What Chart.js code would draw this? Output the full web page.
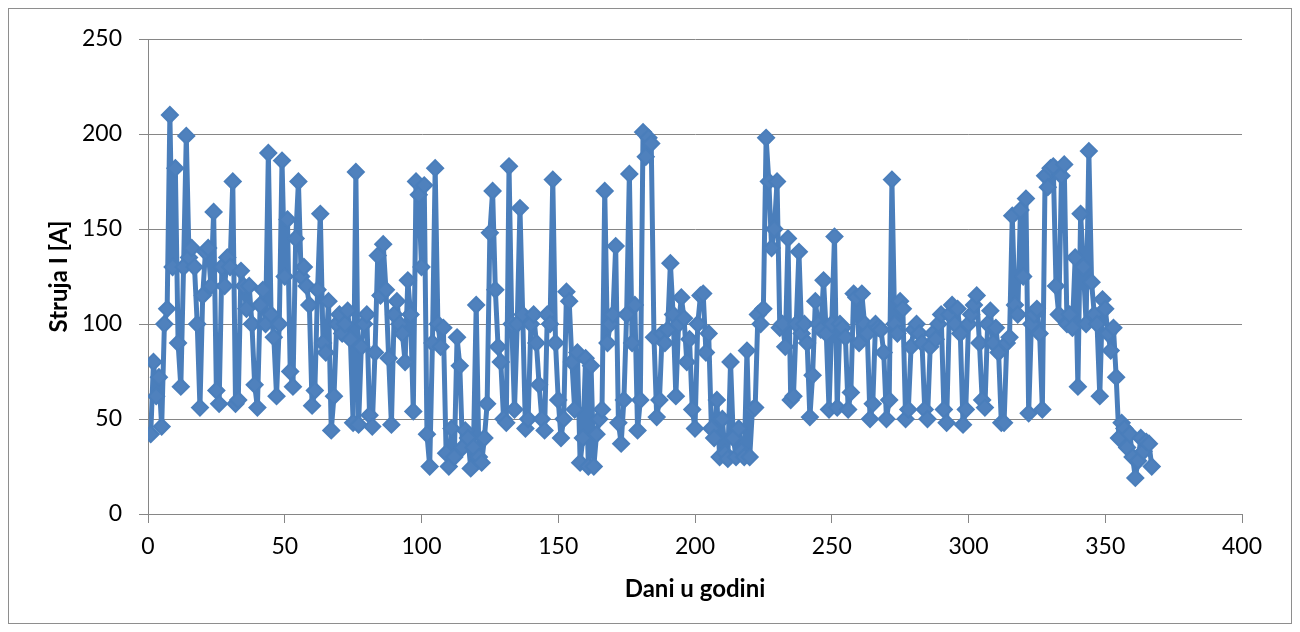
<!DOCTYPE html>
<html>
<head>
<meta charset="utf-8">
<script src="https://cdn.jsdelivr.net/npm/chart.js@4.4.1/dist/chart.umd.min.js"></script>
<style>
  html, body { margin: 0; padding: 0; background: #fff; }
  canvas { display: block; }
</style>
</head>
<body>
<canvas id="myChart" width="1300" height="632"></canvas>
<script>
// struja po danima (A)
const struja = [
  42, 80, 62, 72, 46, 100, 108, 210, 130, 182,
  90, 67, 130, 199, 135, 140, 130, 100, 56, 115,
  138, 140, 120, 159, 65, 58, 130, 120, 135, 130,
  175, 58, 60, 128, 120, 108, 120, 100, 68, 56,
  110, 118, 100, 190, 105, 93, 62, 100, 186, 125,
  155, 75, 67, 145, 175, 125, 130, 120, 110, 57,
  65, 118, 158, 90, 85, 112, 44, 62, 100, 105,
  95, 100, 107, 92, 48, 180, 47, 88, 100, 105,
  52, 46, 85, 136, 115, 142, 118, 82, 47, 105,
  112, 100, 95, 80, 123, 105, 54, 175, 168, 130,
  173, 42, 25, 90, 182, 100, 88, 98, 32, 25,
  45, 30, 93, 78, 35, 44, 40, 24, 35, 110,
  30, 27, 40, 58, 148, 170, 118, 88, 80, 50,
  48, 183, 100, 55, 100, 161, 105, 45, 50, 100,
  105, 90, 68, 50, 44, 105, 100, 176, 90, 60,
  40, 50, 117, 112, 80, 55, 85, 27, 40, 82,
  25, 78, 25, 42, 50, 55, 170, 90, 100, 105,
  141, 48, 37, 60, 105, 179, 90, 110, 44, 60,
  201, 188, 198, 195, 93, 51, 60, 95, 90, 97,
  132, 105, 62, 100, 114, 103, 80, 92, 55, 45,
  100, 115, 116, 85, 95, 45, 40, 60, 30, 50,
  32, 29, 80, 40, 30, 45, 33, 30, 86, 30,
  55, 56, 105, 100, 108, 198, 175, 140, 150, 175,
  98, 100, 88, 145, 60, 62, 100, 138, 95, 100,
  90, 51, 73, 112, 100, 97, 123, 95, 55, 100,
  146, 56, 100, 98, 93, 55, 64, 116, 114, 90,
  116, 100, 95, 50, 58, 100, 98, 97, 85, 50,
  60, 176, 100, 95, 112, 108, 50, 55, 88, 97,
  100, 95, 90, 55, 50, 88, 95, 92, 100, 105,
  55, 48, 105, 110, 100, 108, 95, 47, 55, 100,
  105, 110, 115, 90, 60, 56, 100, 107, 90, 98,
  85, 48, 48, 90, 93, 157, 110, 105, 160, 125,
  166, 53, 100, 105, 108, 95, 55, 178, 172, 182,
  183, 120, 105, 178, 184, 100, 105, 98, 135, 67,
  158, 130, 100, 191, 122, 105, 100, 62, 113, 108,
  95, 86, 98, 72, 40, 48, 45, 35, 42, 30,
  19, 28, 40, 33, 38, 37, 25
];
// dan u godini = redni broj mjerenja
const dani = struja.map((v, i) => i + 1);

const xMin = 0, xMax = 400, xKorak = 50;
const yMin = 0, yMax = 250, yKorak = 50;

const naslovX = 'Dani u godini';
const naslovY = 'Struja I [A]';

const tacke = dani.map((d, i) => ({ x: d, y: struja[i] }));

const okvir = {
  id: 'okvir',
  beforeDraw(chart) {
    const c = chart.ctx;
    c.save();
    c.fillStyle = '#ffffff';
    c.fillRect(0, 0, chart.width, chart.height);
    c.strokeStyle = '#8e8e8e';
    c.lineWidth = 1;
    c.strokeRect(8.5, 8.5, 1283, 615);
    c.restore();
  }
};

const ctx = document.getElementById('myChart');

new Chart(ctx, {
  type: 'scatter',
  data: {
    datasets: [{
      data: tacke,
      showLine: true,
      borderColor: '#4a7ebb',
      backgroundColor: '#4f81bd',
      borderWidth: 5,
      borderJoinStyle: 'round',
      borderCapStyle: 'round',
      pointStyle: 'rectRot',
      pointRadius: 8,
      pointBorderWidth: 2,
      pointBorderColor: '#4a7ebb',
      pointBackgroundColor: '#4f81bd',
      tension: 0
    }]
  },
  options: {
    responsive: false,
    animation: false,
    devicePixelRatio: 1,
    layout: { padding: { left: 0, top: 39, right: 58, bottom: 18 } },
    plugins: {
      legend: { display: false },
      tooltip: { enabled: false }
    },
    scales: {
      x: {
        type: 'linear',
        min: xMin,
        max: xMax,
        afterFit(scale) { scale.height = 100; },
        ticks: {
          stepSize: xKorak,
          color: '#000',
          padding: 10,
          font: { family: 'Lato', size: 23 }
        },
        grid: {
          drawOnChartArea: false,
          drawTicks: true,
          tickLength: 9,
          color: '#868686'
        },
        border: { color: '#868686', width: 1 },
        title: {
          display: true,
          text: naslovX,
          color: '#000',
          font: { family: 'Lato', size: 24, weight: 'bold' },
          padding: { top: 0, bottom: 10 }
        }
      },
      y: {
        min: yMin,
        max: yMax,
        afterFit(scale) { scale.width = 148; },
        ticks: {
          stepSize: yKorak,
          color: '#000',
          padding: 17,
          font: { family: 'Lato', size: 23 }
        },
        grid: {
          color: '#868686',
          tickLength: 9
        },
        border: { color: '#868686', width: 1 },
        title: {
          display: true,
          text: naslovY,
          color: '#000',
          font: { family: 'Lato', size: 24, weight: 'bold' },
          padding: { top: 45, bottom: 0 }
        }
      }
    }
  },
  plugins: [okvir]
});
</script>
</body>
</html>
